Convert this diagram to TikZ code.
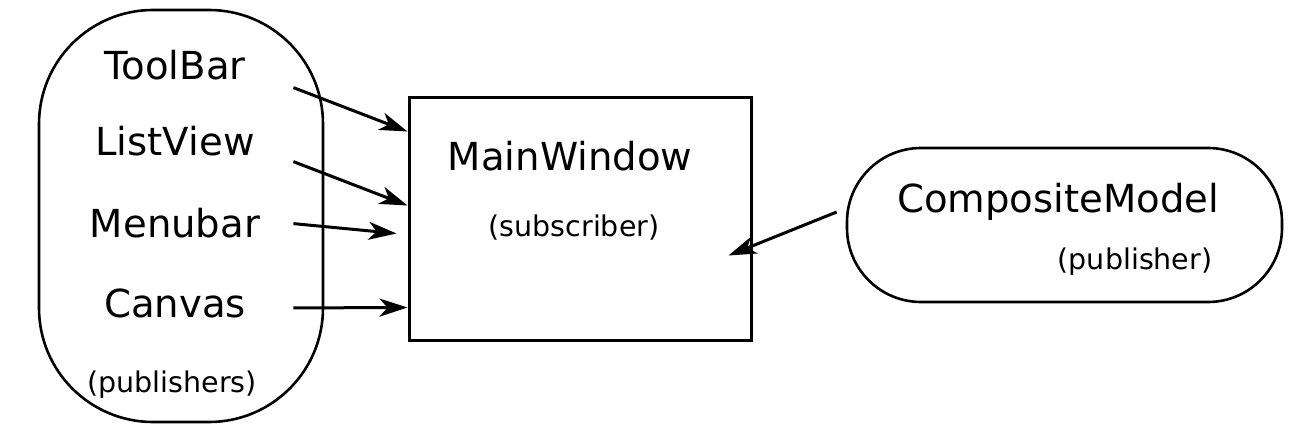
\documentclass[tikz,border=0pt]{standalone}
\usepackage{fontspec}
\setmainfont{DejaVu Sans}
\usetikzlibrary{arrows.meta}

\tikzset{
  bigtext/.style={font=\fontsize{19.3}{23}\selectfont, inner sep=0pt},
  smalltext/.style={font=\fontsize{14.25}{17}\selectfont, inner sep=0pt},
  member/.style={bigtext, minimum width=118pt, anchor=base},
  outline/.style={draw, line width=1.3pt},
  notify/.style={-{Stealth[length=14pt,width=9pt,inset=4pt]}, line width=1.5pt},
}

\begin{document}
\begin{tikzpicture}[x=0.5pt,y=-0.5pt]
  \useasboundingbox (0,0) rectangle (1294,432);

  % Publishers group
  \node[outline, rounded corners=57pt, minimum width=142pt, minimum height=206pt] (group) at (181,216) {};
  \node[member] (toolbar) at (175,80) {ToolBar};
  \node[member] (listview) at (175,156) {ListView};
  \node[member] (menubar) at (175,238) {Menubar};
  \node[member] (canvas) at (175,318) {Canvas};
  \node[smalltext, anchor=base] (publishers) at (172,393) {(publishers)};

  % Subscriber
  \node[outline, line width=1.5pt, minimum width=171pt, minimum height=121.5pt] (main) at (580,219.5) {};
  \node[bigtext, anchor=base] (mainlabel) at (570,171) {MainWindow};
  \node[smalltext, anchor=base] (subscriber) at (574,237) {(subscriber)};

  % Model
  \node[outline, rounded corners=37pt, minimum width=217.5pt, minimum height=77pt] (model) at (1064.5,225) {};
  \node[bigtext, anchor=base] (modellabel) at (1058,213) {CompositeModel};
  \node[smalltext, anchor=base] (publisher) at (1135,270) {(publisher)};

  % Notifications
  \draw[notify] ([yshift=-11pt]toolbar.east) -- ([yshift=44pt]main.west);
  \draw[notify] ([yshift=-10pt]listview.east) -- ([yshift=7pt]main.west);
  \draw[notify] (menubar.east) -- ([xshift=-5.5pt,yshift=-7pt]main.west);
  \draw[notify] ([yshift=-2pt]canvas.east) -- ([yshift=-44pt]main.west);
  \draw[notify] ([xshift=-4.5pt,yshift=6.5pt]model.west) -- ([xshift=-12pt,yshift=-18pt]main.east);
\end{tikzpicture}
\end{document}
